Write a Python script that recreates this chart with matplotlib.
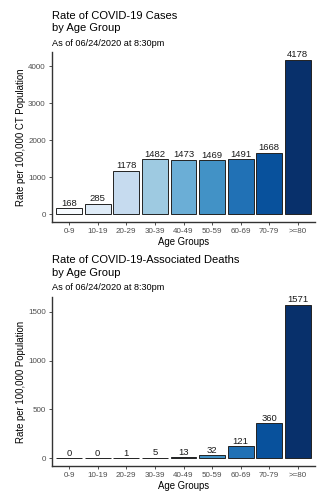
import matplotlib
matplotlib.use('AGG')
import matplotlib.pyplot as plt

plt.rcParams['font.family'] = ['Liberation Sans', 'DejaVu Sans']

age_groups = ['0-9', '10-19', '20-29', '30-39', '40-49', '50-59', '60-69', '70-79', '>=80']
case_rates = [168, 285, 1178, 1482, 1473, 1469, 1491, 1668, 4178]
death_rates = [0, 0, 1, 5, 13, 32, 121, 360, 1571]
blues = ['#F7FBFF', '#DEEBF7', '#C6DBEF', '#9ECAE1', '#6BAED6',
         '#4292C6', '#2171B5', '#08519C', '#08306B']

W, H = 323, 500
fig = plt.figure(figsize=(W / 100, H / 100), dpi=100)


def px_axes(left, top, right, bottom):
    return fig.add_axes([left / W, 1 - bottom / H, (right - left) / W, (bottom - top) / H])


def px_text(x, y, s, size):
    fig.text(x / W, 1 - y / H, s, fontsize=size, ha='left', va='baseline', color='black')


def panel(ax, values, ylabel, yticks):
    x = list(range(len(values)))
    ax.bar(x, values, width=0.9, color=blues, edgecolor='#222222', linewidth=0.7)
    for xi, v in zip(x, values):
        ax.annotate(str(v), (xi, v), xytext=(0, 0.3), textcoords='offset points',
                    ha='center', va='bottom', fontsize=6.8, color='#1a1a1a')
    top = max(values)
    ax.set_ylim(-0.05 * top, 1.05 * top)
    ax.set_xlim(-0.6, len(values) - 0.4)
    ax.set_xticks(x)
    ax.set_xticklabels(age_groups)
    ax.set_yticks(yticks)
    ax.tick_params(labelsize=5.8, labelcolor='#4d4d4d', color='#333333',
                   length=2.5, width=0.6, pad=2)
    for s in ['top', 'right']:
        ax.spines[s].set_visible(False)
    for s in ['left', 'bottom']:
        ax.spines[s].set_color('#333333')
        ax.spines[s].set_linewidth(1.0)
    ax.set_xlabel('Age Groups', fontsize=6.9, labelpad=1)
    ax.set_ylabel(ylabel, fontsize=6.9, labelpad=1.5)


ax1 = px_axes(52, 52, 315, 222)
panel(ax1, case_rates, 'Rate per 100,000 CT Population', [0, 1000, 2000, 3000, 4000])
px_text(52, 19, 'Rate of COVID-19 Cases', 8)
px_text(52, 31, 'by Age Group', 8)
px_text(52, 45.5, 'As of 06/24/2020 at 8:30pm', 6.6)

ax2 = px_axes(52, 297, 315, 466)
panel(ax2, death_rates, 'Rate per 100,000 Population', [0, 500, 1000, 1500])
px_text(52, 263, 'Rate of COVID-19-Associated Deaths', 8)
px_text(52, 276, 'by Age Group', 8)
px_text(52, 290, 'As of 06/24/2020 at 8:30pm', 6.6)

fig.savefig('out.png', dpi=100)
